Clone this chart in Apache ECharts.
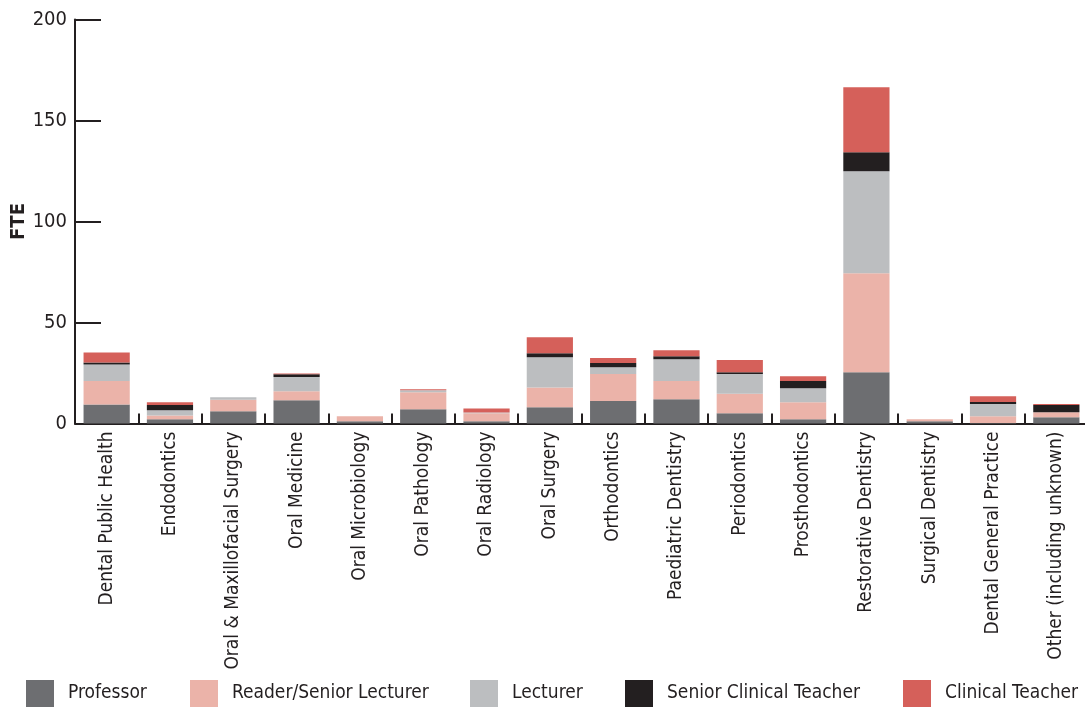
<!DOCTYPE html>
<html>
<head>
<meta charset="utf-8">
<script src="https://cdn.jsdelivr.net/npm/echarts@6/dist/echarts.min.js"></script>
<style>html,body{margin:0;padding:0;background:#fff;}#c{width:1085px;height:708px;}</style>
</head>
<body>
<div id="c"></div>
<script>
const categories = ["Dental Public Health","Endodontics","Oral & Maxillofacial Surgery","Oral Medicine","Oral Microbiology","Oral Pathology","Oral Radiology","Oral Surgery","Orthodontics","Paediatric Dentistry","Periodontics","Prosthodontics","Restorative Dentistry","Surgical Dentistry","Dental General Practice","Other (including unknown)"];
const professor = [9.4, 2.1, 6.1, 11.5, 1.1, 7.1, 1.1, 8.1, 11.1, 12.0, 5.1, 2.1, 25.4, 1.1, 0.3, 3.1];
const readerSeniorLecturer = [11.7, 1.8, 5.6, 4.5, 2.5, 8.4, 4.0, 9.7, 13.4, 9.0, 9.6, 8.4, 49.0, 1.0, 3.3, 2.5];
const lecturer = [8.1, 2.7, 1.3, 7.0, 0, 1.0, 0.3, 15.0, 3.4, 10.8, 9.8, 7.0, 50.5, 0, 6.0, 0];
const seniorClinicalTeacher = [1.0, 2.5, 0, 1.4, 0, 0, 0, 2.0, 2.0, 1.5, 0.9, 3.5, 9.4, 0, 1.0, 3.5];
const clinicalTeacher = [4.9, 1.4, 0, 0.4, 0, 0.5, 2.0, 7.9, 2.5, 3.0, 6.0, 2.4, 32.2, 0, 2.9, 0.5];
const seriesNames = ["Professor","Reader/Senior Lecturer","Lecturer","Senior Clinical Teacher","Clinical Teacher"];
const yTicks = [0, 50, 100, 150, 200];

const colors = ["#6d6e71","#ebb3a9","#bcbec0","#231f20","#d5605a"];
const FONT = "'Liberation Sans Narrow','DejaVu Sans Condensed',sans-serif";
const TXT = "#231f20";
const values = [professor, readerSeniorLecturer, lecturer, seniorClinicalTeacher, clinicalTeacher];
const legendLefts = [26, 190, 470, 625, 903];

const chart = echarts.init(document.getElementById('c'), null, {renderer:'canvas'});
chart.setOption({
  animation: false,
  color: colors,
  textStyle: {fontFamily: FONT, color: TXT},
  grid: {left: 75, top: 19.5, width: 1013, height: 404, containLabel: false, outerBoundsMode: 'none'},
  legend: seriesNames.map((n, i) => ({
    data: [n], left: legendLefts[i], top: 680, padding: 0, itemWidth: 28, itemHeight: 27, itemGap: 14,
    icon: 'rect', textStyle: {fontFamily: FONT, fontSize: 19, color: TXT, padding: [0,0,0,9]}
  })),
  xAxis: {
    type: 'category', data: categories,
    axisLine: {lineStyle: {color: '#231f20', width: 2}},
    axisTick: {show: true, inside: true, length: 10, lineStyle: {color: '#231f20', width: 2}},
    axisLabel: {rotate: 90, fontSize: 19, color: TXT, fontFamily: FONT, margin: 8, interval: 0}
  },
  yAxis: {
    type: 'value', min: 0, max: 200, interval: 50,
    name: 'FTE', nameLocation: 'middle', nameGap: 46, nameRotate: 90, nameMoveOverlap: false,
    nameTextStyle: {fontSize: 20, fontWeight: 'bold', color: TXT, fontFamily: FONT},
    axisLine: {show: true, lineStyle: {color: '#231f20', width: 2}},
    axisTick: {show: true, inside: true, length: 26, lineStyle: {color: '#231f20', width: 2}},
    splitLine: {show: false},
    axisLabel: {fontSize: 20, color: TXT, fontFamily: FONT, margin: 8,
      formatter: v => yTicks.includes(v) ? String(v) : ''}
  },
  series: seriesNames.map((n, i) => ({
    name: n, type: 'bar', stack: 'total', data: values[i],
    barCategoryGap: '27%', itemStyle: {color: colors[i]}
  }))
});
</script>
</body>
</html>
